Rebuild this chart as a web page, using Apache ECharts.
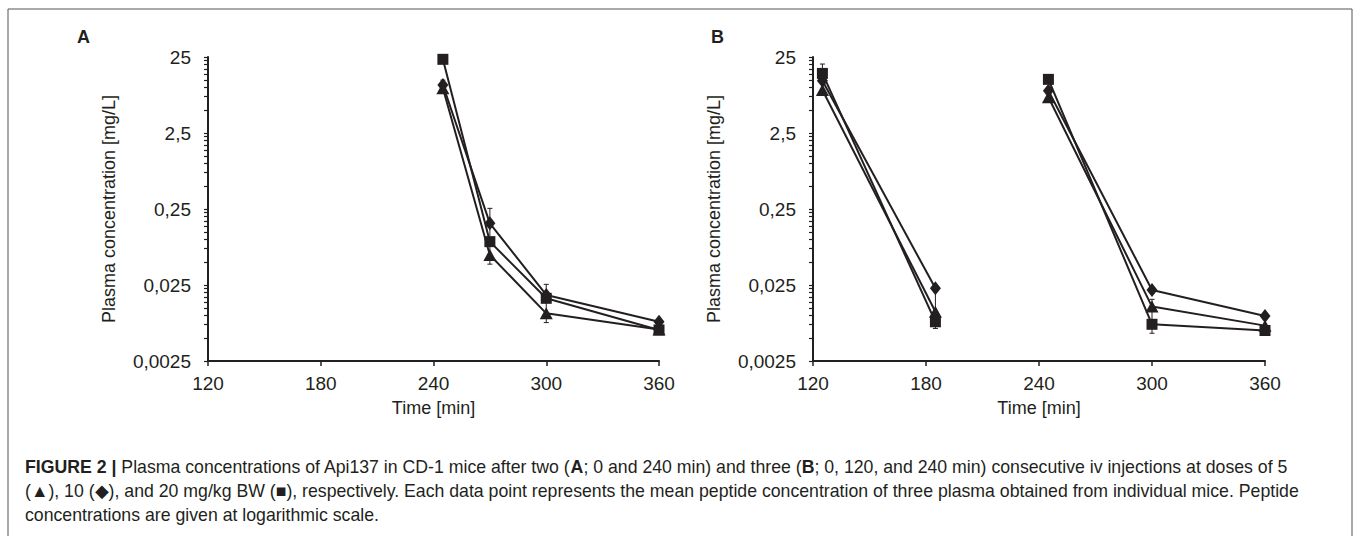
<!DOCTYPE html>
<html>
<head>
<meta charset="utf-8">
<script src="https://cdn.jsdelivr.net/npm/echarts@6/dist/echarts.min.js"></script>
<style>
html,body{margin:0;padding:0;background:#fff;}
#c{width:1357px;height:536px;}
</style>
</head>
<body>
<div id="c"></div>
<script>
// ---- data ----
var timesA = [245, 270, 300, 360];
var A_tri = [9.7, 0.062, 0.0106, 0.0065];
var A_dia = [10.7, 0.162, 0.0185, 0.0082];
var A_sq  = [23.3, 0.093, 0.0167, 0.0064];

var timesB1 = [125, 185];
var timesB2 = [245, 300, 360];
var B_tri = [9.2, 0.0111, 7.4, 0.013, 0.0073];
var B_dia = [12.2, 0.0226, 9.0, 0.0215, 0.0098];
var B_sq  = [15.2, 0.0082, 12.7, 0.0076, 0.0063];

// error bars: [time, low, high]
var errA = [[245, 8.8, 12.4], [270, 0.047, 0.255], [300, 0.0080, 0.0255]];
var errB = [[125, 12.0, 20.2], [185, 0.0067, 0.0245], [300, 0.0058, 0.0162]];

var yLabels = [0.0025, 0.025, 0.25, 2.5, 25];
var xTicks = [120, 180, 240, 300, 360];

// ---- helpers ----
var INK = '#231f20';
var FONT = '"Liberation Sans", Arial, sans-serif';
var tickVals = [];
for (var i = 0; i < yLabels.length - 1; i++) {
  for (var k = 1; k <= 9; k++) tickVals.push(+(yLabels[i] * k).toPrecision(6));
}
tickVals.push(yLabels[yLabels.length - 1]);

function fmtY(v) { return String(+v.toPrecision(4)).replace('.', ','); }

function xAxisCfg(idx) {
  return {
    type: 'value', gridIndex: idx, min: xTicks[0], max: xTicks[xTicks.length - 1], interval: 60,
    name: 'Time [min]', nameLocation: 'middle', nameGap: 38,
    nameTextStyle: { fontFamily: FONT, fontSize: 18, color: INK },
    axisLine: { lineStyle: { color: INK, width: 2 } },
    axisTick: { show: true, inside: false, length: 5, lineStyle: { color: INK, width: 1.5 } },
    axisLabel: { fontFamily: FONT, fontSize: 19, color: INK, margin: 13 },
    splitLine: { show: false }
  };
}
function yAxisCfg(idx) {
  return {
    type: 'log', gridIndex: idx, logBase: 10, min: yLabels[0], max: yLabels[yLabels.length - 1],
    name: 'Plasma concentration [mg/L]', nameLocation: 'middle', nameGap: 90, nameRotate: 90,
    nameTextStyle: { fontFamily: FONT, fontSize: 18, color: INK },
    axisLine: { show: true, lineStyle: { color: INK, width: 2 } },
    axisTick: { show: true, inside: false, length: 4, customValues: tickVals, lineStyle: { color: INK, width: 1.2 } },
    axisLabel: { fontFamily: FONT, fontSize: 19, color: INK, margin: 17, customValues: yLabels, formatter: fmtY },
    splitLine: { show: false },
    minorTick: { show: false }
  };
}

var symbols = {
  tri: { symbol: 'triangle', symbolSize: [13, 12] },
  dia: { symbol: 'diamond', symbolSize: [11, 14] },
  sq:  { symbol: 'rect', symbolSize: [11, 11] }
};

function lineSeries(idx, times, vals, key) {
  return {
    type: 'line', xAxisIndex: idx, yAxisIndex: idx,
    data: times.map(function (t, j) { return [t, vals[j]]; }),
    symbol: symbols[key].symbol, symbolSize: symbols[key].symbolSize,
    showAllSymbol: true,
    lineStyle: { color: INK, width: 2 },
    itemStyle: { color: INK, borderWidth: 0 },
    z: 3, silent: true, animation: false
  };
}

function errSeries(idx, data) {
  return {
    type: 'custom', xAxisIndex: idx, yAxisIndex: idx, data: data, z: 2, silent: true, animation: false,
    renderItem: function (params, api) {
      var x = api.value(0);
      var lo = api.coord([x, api.value(1)]);
      var hi = api.coord([x, api.value(2)]);
      var w = 2.5;
      return {
        type: 'group',
        children: [
          { type: 'line', shape: { x1: lo[0], y1: lo[1], x2: hi[0], y2: hi[1] }, style: { stroke: INK, lineWidth: 1 } },
          { type: 'line', shape: { x1: lo[0] - w, y1: lo[1], x2: lo[0] + w, y2: lo[1] }, style: { stroke: INK, lineWidth: 1 } },
          { type: 'line', shape: { x1: hi[0] - w, y1: hi[1], x2: hi[0] + w, y2: hi[1] }, style: { stroke: INK, lineWidth: 1 } }
        ]
      };
    }
  };
}

var series = [];
series.push(errSeries(0, errA));
series.push(lineSeries(0, timesA, A_tri, 'tri'));
series.push(lineSeries(0, timesA, A_dia, 'dia'));
series.push(lineSeries(0, timesA, A_sq, 'sq'));

series.push(errSeries(1, errB));
[['tri', B_tri], ['dia', B_dia], ['sq', B_sq]].forEach(function (p) {
  series.push(lineSeries(1, timesB1, p[1].slice(0, 2), p[0]));
  series.push(lineSeries(1, timesB2, p[1].slice(2), p[0]));
});

var CAP = 17.7;
var capStyle = {
  fontFamily: FONT, fontSize: CAP, fill: INK,
  rich: {
    b: { fontFamily: FONT, fontSize: CAP, fontWeight: 'bold', fill: INK },
    n: { fontFamily: FONT, fontSize: CAP, fill: INK }
  }
};
function capLine(y, txt) {
  return { type: 'text', left: 25, top: y, style: Object.assign({}, capStyle, { text: txt }) };
}

var option = {
  backgroundColor: '#ffffff',
  animation: false,
  grid: [
    { left: 208, top: 57, width: 451, height: 304 },
    { left: 813, top: 57, width: 452, height: 304 }
  ],
  xAxis: [xAxisCfg(0), xAxisCfg(1)],
  yAxis: [yAxisCfg(0), yAxisCfg(1)],
  series: series,
  graphic: [
    { type: 'rect', shape: { x: 8, y: 9, width: 1344, height: 540 }, style: { fill: 'none', stroke: '#555555', lineWidth: 1 }, silent: true },
    { type: 'text', left: 77, top: 28, style: { text: 'A', fontFamily: FONT, fontSize: 18, fontWeight: 'bold', fill: INK } },
    { type: 'text', left: 711, top: 28, style: { text: 'B', fontFamily: FONT, fontSize: 18, fontWeight: 'bold', fill: INK } },
    capLine(458, '{b|FIGURE 2 |} {n|Plasma concentrations of Api137 in CD-1 mice after two (}{b|A}{n|; 0 and 240 min) and three (}{b|B}{n|; 0, 120, and 240 min) consecutive iv injections at doses of 5}'),
    capLine(482, '(\u25B2), 10 (\u25C6), and 20 mg/kg BW (\u25A0), respectively. Each data point represents the mean peptide concentration of three plasma obtained from individual mice. Peptide'),
    capLine(506, 'concentrations are given at logarithmic scale.')
  ]
};

var chart = echarts.init(document.getElementById('c'), null, { renderer: 'svg' });
chart.setOption(option);
</script>
</body>
</html>
